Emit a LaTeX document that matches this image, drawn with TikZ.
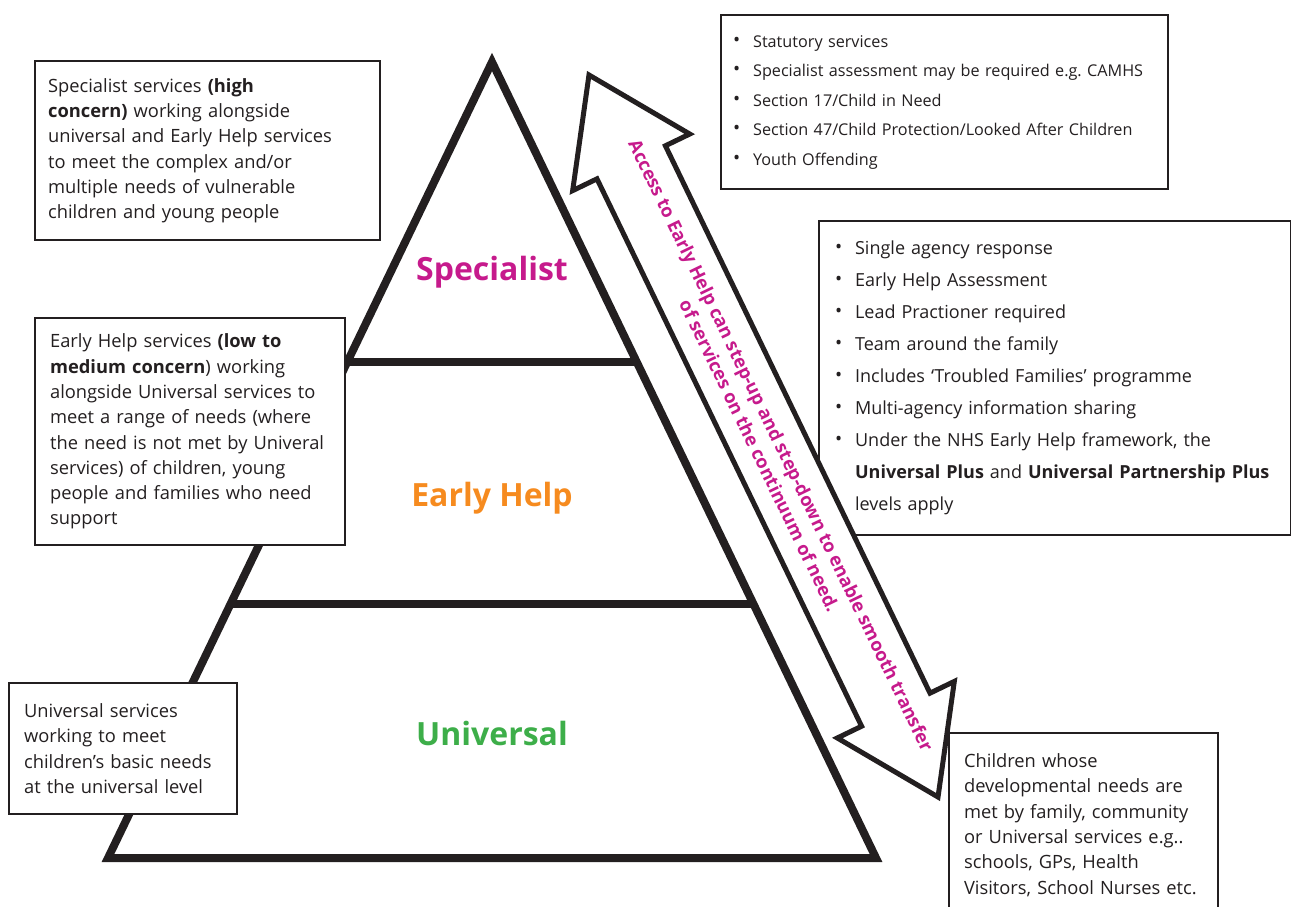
\documentclass[tikz,border=0pt]{standalone}
\usepackage{fontspec}
\setmainfont{Open Sans}
\usetikzlibrary{calc}
\frenchspacing

\definecolor{inkdark}{RGB}{35,31,32}
\definecolor{spcmag}{RGB}{198,26,140}
\definecolor{ehorange}{RGB}{246,139,31}
\definecolor{unigreen}{RGB}{61,174,73}

\newcommand{\bitem}[1]{\makebox[20pt][l]{\raisebox{0.05em}{\fontsize{19}{19}\selectfont\textbullet}}#1}
\newcommand{\bcont}[1]{\hspace*{20pt}#1}

\begin{document}
\begin{tikzpicture}[x=1pt,y=-1pt,
  infobox/.style={draw=inkdark, line width=2.2pt, fill=white, anchor=north west,
    align=left, inner xsep=14pt, inner ysep=0pt, text=inkdark,
    font=\fontsize{18.3}{25.3}\selectfont},
  listbox/.style={infobox, inner xsep=13pt, font=\fontsize{16.2}{29.5}\selectfont},
  tierline/.style={line width=8pt, draw=inkdark},
  tierlabel/.style={font=\fontsize{32}{40}\selectfont\bfseries}]

\useasboundingbox (0,0) rectangle (1291,907);

% pyramid
\coordinate (apex) at (492,62);
\coordinate (baseL) at (108,858);
\coordinate (baseR) at (876,858);
\draw[tierline, line join=miter] (apex) -- (baseL) -- (baseR) -- cycle;
\draw[tierline] ($(apex)!0.377!(baseL)$) -- ($(apex)!0.377!(baseR)$);
\draw[tierline] ($(apex)!0.681!(baseL)$) -- ($(apex)!0.681!(baseR)$);

\node[tierlabel, text=spcmag] (specialist) at (492,272) {Specialist};
\node[tierlabel, text=ehorange] (earlyhelp) at (492,498) {Early Help};
\node[tierlabel, text=unigreen] (universal) at (492,733) {Universal};

% descriptions on the left
\node[infobox, inner xsep=13pt, text width=319pt, minimum height=179pt] (specdesc) at (34,60)
  {Specialist services \textbf{(high}\\
   \textbf{concern)} working alongside\\
   universal and Early Help services\\
   to meet the complex and/or\\
   multiple needs of vulnerable\\
   children and young people};
\node[infobox, inner xsep=15pt, text width=280pt, minimum height=227pt] (ehdesc) at (34,317)
  {Early Help services \textbf{(low to}\\
   \textbf{medium concern}) working\\
   alongside Universal services to\\
   meet a range of needs (where\\
   the need is not met by Univeral\\
   services) of children, young\\
   people and families who need\\
   support};
\node[infobox, inner xsep=15pt, text width=198pt, minimum height=131pt] (unidesc) at (8,682)
  {Universal services\\
   working to meet\\
   children’s basic needs\\
   at the universal level};

% lists on the right
\node[listbox, inner xsep=12pt, text width=423pt, minimum height=174pt] (statlist) at (720,14)
  {\bitem{Statutory services}\\
   \bitem{Specialist assessment may be required e.g. CAMHS}\\
   \bitem{Section 17/Child in Need}\\
   \bitem{Section 47/Child Protection/Looked After Children}\\
   \bitem{Youth Offending}};
\node[listbox, inner xsep=16pt, text width=440pt, minimum height=314pt,
  font=\fontsize{18}{32}\selectfont] (ehlist) at (818,220)
  {\bitem{Single agency response}\\
   \bitem{Early Help Assessment}\\
   \bitem{Lead Practioner required}\\
   \bitem{Team around the family}\\
   \bitem{Includes ‘Troubled Families’ programme}\\
   \bitem{Multi-agency information sharing}\\
   \bitem{Under the NHS Early Help framework, the}\\
   \bcont{\textbf{Universal Plus} and \textbf{Universal Partnership Plus}}\\
   \bcont{levels apply}};
\node[infobox, inner xsep=15pt, text width=239pt, minimum height=184pt] (unilist) at (948,732)
  {Children whose\\
   developmental needs are\\
   met by family, community\\
   or Universal services e.g..\\
   schools, GPs, Health\\
   Visitors, School Nurses etc.};

% step-up / step-down arrow
\begin{scope}[shift={(763.5,436)}, rotate=-64.2]
  \draw[line width=5pt, draw=inkdark, fill=white, line join=miter]
    (-401,0) -- (-304,-65) -- (-304,-38) -- (304,-38) -- (304,-65)
    -- (401,0) -- (304,65) -- (304,38) -- (-304,38) -- (-304,65) -- cycle;
  \node[rotate=-64.2, text=spcmag, align=center,
    font=\fontsize{18.3}{24}\selectfont\bfseries] (steptext) at (16,0)
    {Access to Early Help can step-up and step-down to enable smooth transfer\\
     of services on the continuum of need.};
\end{scope}
\end{tikzpicture}
\end{document}
